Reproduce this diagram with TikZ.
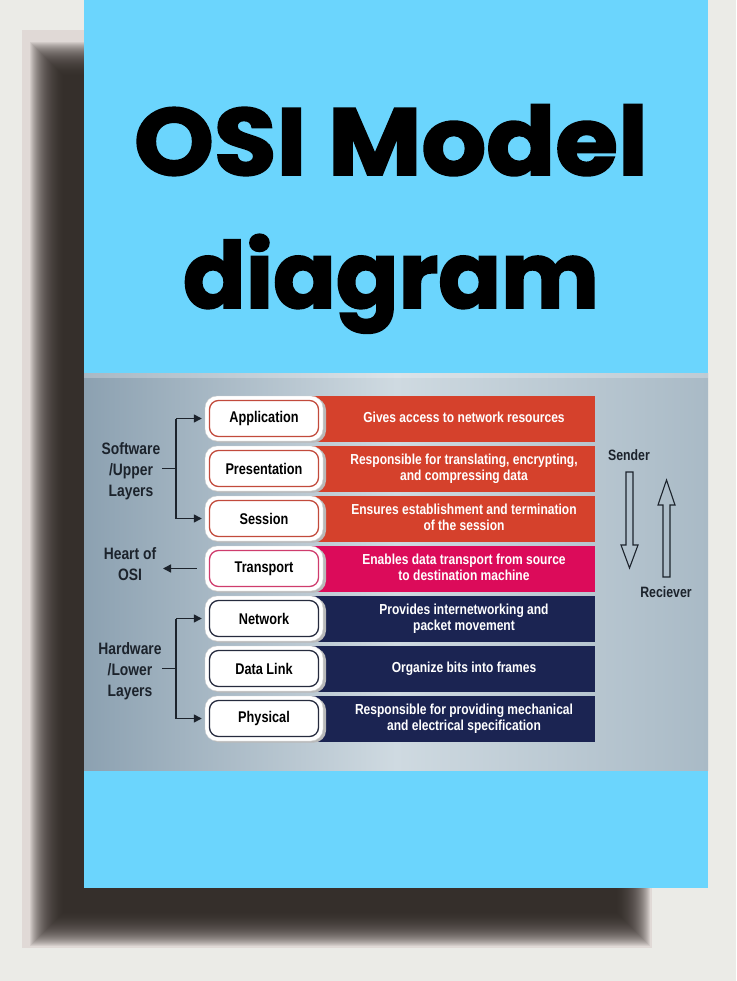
\documentclass[tikz,border=0pt]{standalone}
\usepackage{fontspec}
\usepackage{graphicx}
\setmainfont{Liberation Sans}
\newfontfamily\titlefont{Poppins}[BoldFeatures={FakeBold=2}]
\usetikzlibrary{arrows.meta}
\definecolor{bgc}{HTML}{EBEBE7}
\definecolor{shlight}{HTML}{E0D9D6}
\definecolor{shdark}{HTML}{2E2823}
\definecolor{sky}{HTML}{6BD5FD}
\definecolor{panL}{HTML}{8CA1B1}
\definecolor{panM}{HTML}{CFDAE1}
\definecolor{panR}{HTML}{A9BAC6}
\definecolor{redbar}{HTML}{D5412C}
\definecolor{pinkbar}{HTML}{DC0B5A}
\definecolor{navybar}{HTML}{1B2452}
\definecolor{redline}{HTML}{C24A3C}
\definecolor{pinkline}{HTML}{CF3C6D}
\definecolor{navyline}{HTML}{262B3E}
\definecolor{ink}{HTML}{1C232C}
\newcommand\nar[1]{\scalebox{0.83}[1]{\begin{tabular}{@{}c@{}}#1\end{tabular}}}
\newcommand\narb[1]{\scalebox{0.82}[1]{#1}}
\newcommand\narl[1]{\scalebox{0.84}[1]{\begin{tabular}{@{}c@{}}#1\end{tabular}}}
\tikzset{
  outerbox/.style={draw=gray!35, fill=white, rounded corners=12pt, minimum width=118pt, minimum height=45pt, inner sep=0pt},
  innerbox/.style={rounded corners=9pt, minimum width=109pt, minimum height=36pt, line width=1.3pt, inner sep=0pt, font=\fontsize{15.5}{17}\selectfont\bfseries, text=black},
  desc/.style={text=white, font=\fontsize{14.5}{15.5}\selectfont\bfseries, inner sep=0pt},
  lab/.style={text=ink, font=\fontsize{16.5}{21}\selectfont\bfseries, inner sep=0pt},
  rlab/.style={text=ink, font=\fontsize{15}{17}\selectfont\bfseries, inner sep=0pt},
  conn/.style={draw=ink, line width=1.4pt},
  arr/.style={conn, -{Triangle[length=8pt,width=8pt]}},
  hollow/.style={draw=ink, line width=1.1pt, line join=miter}
}
\newcommand\layer[6]{%
  \fill[#4] (300,{#2-23}) rectangle (595,{#2+23});
  \fill[gray!55, rounded corners=12pt] (208,{#2-20.5}) rectangle (326,{#2+24});
  \node[outerbox] (#1) at (264,#2) {};
  \node[innerbox, draw=#5] (#1in) at (#1.center) {\narb{#3}};
  \node[desc] (#1d) at (464,{#2+1}) {\nar{#6}};
}
\begin{document}
\begin{tikzpicture}[x=1pt,y=-1pt]
\useasboundingbox (0,0) rectangle (736,981);
\fill[bgc] (0,0) rectangle (736,981);
% page shadow
\fill[shlight] (22,30) rectangle (652,948);
\foreach \i in {0,...,33} \fill[shdark,opacity=0.075] ({30+\i},{42+\i}) rectangle ({650-\i},{946-\i});
% blue card
\fill[sky] (84,0) rectangle (708,888);
% title
\node[anchor=base, inner sep=0pt] (t1) at (391,175) {\resizebox{514pt}{\height}{\titlefont\bfseries\fontsize{95}{95}\selectfont OSI Model}};
\node[anchor=base, inner sep=0pt] (t2) at (391,308) {\resizebox{416pt}{\height}{\titlefont\bfseries\fontsize{92}{92}\selectfont diagram}};
% panel
\shade[left color=panL, right color=panR, middle color=panM] (84,373) rectangle (708,770);
\fill[white, opacity=0.25] (84,373) rectangle (708,378);
% layers
\layer{app}{418.5}{Application}{redbar}{redline}{Gives access to network resources}
\layer{pres}{468.5}{Presentation}{redbar}{redline}{Responsible for translating, encrypting,\\ and compressing data}
\layer{sess}{518.5}{Session}{redbar}{redline}{Ensures establishment and termination\\ of the session}
\layer{trans}{568.5}{Transport}{pinkbar}{pinkline}{Enables data transport from source\\ to destination machine}
\layer{net}{618.5}{Network}{navybar}{navyline}{Provides internetworking and\\ packet movement}
\layer{dl}{668.5}{Data Link}{navybar}{navyline}{Organize bits into frames}
\layer{phys}{718.5}{Physical}{navybar}{navyline}{Responsible for providing mechanical\\ and electrical specification}
% left labels
\node[lab] (sw) at (131,471) {\narl{Software\\ /Upper\\ Layers}};
\node[lab] (hrt) at (130,566) {\narl{Heart of\\ OSI}};
\node[lab] (hw) at (130,671) {\narl{Hardware\\ /Lower\\ Layers}};
% upper bracket
\coordinate (u1) at (176,418.5);
\coordinate (u3) at (176,518.5);
\coordinate (um) at (176,468.5);
\coordinate (um0) at (162,468.5);
\draw[conn] (u1) -- (u3);
\draw[conn] (um0) -- (um);
\draw[arr, shorten >=3pt] (u1) -- (app.west);
\draw[arr, shorten >=3pt] (u3) -- (sess.west);
% heart arrow
\coordinate (hA) at (163,568.5);
\draw[arr, shorten <=8pt] (trans.west) -- (hA);
% lower bracket
\coordinate (l1) at (176,618.5);
\coordinate (l3) at (176,718.5);
\coordinate (lm) at (176,668.5);
\coordinate (lm0) at (162,668.5);
\draw[conn] (l1) -- (l3);
\draw[conn] (lm0) -- (lm);
\draw[arr, shorten >=3pt] (l1) -- (net.west);
\draw[arr, shorten >=3pt] (l3) -- (phys.west);
% sender / receiver
\node[rlab, anchor=base] (snd) at (629,460) {\narb{Sender}};
\node[rlab, anchor=base] (rcv) at (666,597) {\narb{Reciever}};
\draw[hollow] (626,472) -- (633,472) -- (633,545) -- (638,545) -- (629.5,568) -- (621,545) -- (626,545) -- cycle;
\draw[hollow] (663,577) -- (670,577) -- (670,505) -- (675,505) -- (666.5,480) -- (658,505) -- (663,505) -- cycle;
\end{tikzpicture}
\end{document}
